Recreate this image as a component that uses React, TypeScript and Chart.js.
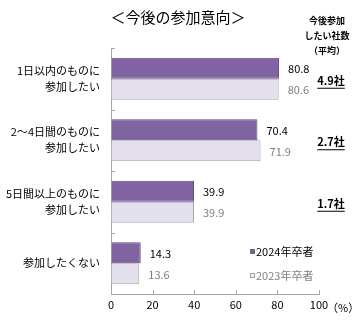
import React, { useEffect, useRef } from "react";
import { Chart, registerables } from "chart.js";

Chart.register(...registerables);

const FONT = "'Noto Sans CJK JP', 'Noto Sans', sans-serif";

const categories: string[][] = [
  ["1日以内のものに", "参加したい"],
  ["2～4日間のものに", "参加したい"],
  ["5日間以上のものに", "参加したい"],
  ["参加したくない"],
];
const series2024 = [80.8, 70.4, 39.9, 14.3];
const series2023 = [80.6, 71.9, 39.9, 13.6];
const seriesNames = ["2024年卒者", "2023年卒者"];
const avgCompanies = ["4.9社", "2.7社", "1.7社", ""];
const xTickValues = [0, 20, 40, 60, 80, 100];
const titleText = "＜今後の参加意向＞";
const sideHeader = ["今後参加", "したい社数", "（平均）"];
const unitText = "（%）";

const COLOR_2024 = "#8064A2";
const BORDER_2024 = "#5F4B7D";
const COLOR_2023 = "#E4DFEC";
const BORDER_2023 = "#A8A4AE";

const overlayPlugin = {
  id: "overlay",
  afterDraw(chart: any) {
    const ctx = chart.ctx as CanvasRenderingContext2D;
    const area = chart.chartArea;
    const xs = chart.scales.x;
    const ys = chart.scales.y;
    ctx.save();

    // title
    ctx.fillStyle = "#000";
    ctx.font = `15px ${FONT}`;
    ctx.textAlign = "center";
    ctx.textBaseline = "middle";
    ctx.fillText(titleText, 178, 17);

    // side header
    ctx.font = `bold 9px ${FONT}`;
    const hy = [21, 36, 51];
    sideHeader.forEach((t, i) => ctx.fillText(t, 327, hy[i]));

    // inward tick marks
    ctx.strokeStyle = "#A6A6A6";
    ctx.lineWidth = 1;
    xTickValues.slice(1).forEach((v) => {
      const px = Math.round(xs.getPixelForValue(v)) + 0.5;
      ctx.beginPath();
      ctx.moveTo(px, area.bottom);
      ctx.lineTo(px, area.bottom - 4);
      ctx.stroke();
    });
    for (let i = 0; i < categories.length; i++) {
      const c = ys.getPixelForValue(i);
      const next = i + 1 < categories.length ? ys.getPixelForValue(i + 1) : c + (c - ys.getPixelForValue(i - 1));
      const b = Math.round(c - (next - c) / 2) + 0.5;
      ctx.beginPath();
      ctx.moveTo(area.left, b);
      ctx.lineTo(area.left + 4, b);
      ctx.stroke();
    }

    // value labels
    ctx.font = `11px ${FONT}`;
    ctx.textAlign = "left";
    ctx.textBaseline = "middle";
    const labelColors = ["#000000", "#7F7F7F"];
    chart.data.datasets.forEach((ds: any, di: number) => {
      const meta = chart.getDatasetMeta(di);
      meta.data.forEach((el: any, i: number) => {
        ctx.fillStyle = labelColors[di];
        ctx.fillText(ds.data[i].toFixed(1), el.x + 9, el.y + 1);
      });
    });

    // average companies
    ctx.font = `bold 11px ${FONT}`;
    ctx.fillStyle = "#000";
    ctx.strokeStyle = "#000";
    avgCompanies.forEach((t, i) => {
      if (!t) return;
      const y = ys.getPixelForValue(i) + 2;
      ctx.textAlign = "center";
      ctx.fillText(t, 331, y);
      const w = ctx.measureText(t).width;
      ctx.beginPath();
      ctx.moveTo(331 - w / 2, y + 7.5);
      ctx.lineTo(331 + w / 2, y + 7.5);
      ctx.stroke();
    });

    // legend
    ctx.font = `11px ${FONT}`;
    ctx.textAlign = "left";
    ctx.fillStyle = "#6E6680";
    ctx.fillRect(250, 249, 5, 5);
    ctx.fillStyle = "#000";
    ctx.fillText(seriesNames[0], 256, 252);
    ctx.fillStyle = "#F2F0F5";
    ctx.fillRect(250, 273, 5, 5);
    ctx.strokeStyle = "#A0A0A0";
    ctx.strokeRect(250.5, 273.5, 4, 4);
    ctx.fillStyle = "#808080";
    ctx.fillText(seriesNames[1], 256, 276);

    // unit
    ctx.fillStyle = "#000";
    ctx.fillText(unitText, 327, 308);

    ctx.restore();
  },
};

export default function App() {
  const ref = useRef<HTMLCanvasElement>(null);
  useEffect(() => {
    if (!ref.current) return;
    const chart = new Chart(ref.current, {
      type: "bar",
      data: {
        labels: categories,
        datasets: [
          {
            label: seriesNames[0],
            data: series2024,
            backgroundColor: COLOR_2024,
            borderColor: BORDER_2024,
            borderWidth: 1,
            categoryPercentage: 0.68,
            barPercentage: 1,
          },
          {
            label: seriesNames[1],
            data: series2023,
            backgroundColor: COLOR_2023,
            borderColor: BORDER_2023,
            borderWidth: 1,
            categoryPercentage: 0.68,
            barPercentage: 1,
          },
        ],
      },
      options: {
        indexAxis: "y",
        responsive: false,
        animation: false,
        layout: { padding: { top: 48, right: 40, left: 0, bottom: 0 } },
        plugins: { legend: { display: false }, tooltip: { enabled: false } },
        scales: {
          x: {
            min: 0,
            max: 100,
            ticks: { stepSize: 20, color: "#000", font: { family: FONT, size: 11 }, padding: 4, maxRotation: 0 },
            grid: { drawOnChartArea: false, drawTicks: false },
            border: { display: true, color: "#A6A6A6" },
            afterFit: (s: any) => {
              s.height = 24.5;
            },
          },
          y: {
            ticks: { color: "#000", font: { family: FONT, size: 11, lineHeight: 16 / 11 }, padding: 11 },
            grid: { drawOnChartArea: false, drawTicks: false },
            border: { display: true, color: "#A6A6A6" },
            afterFit: (s: any) => {
              s.width = 111;
            },
          },
        },
      } as any,
      plugins: [overlayPlugin],
    });
    return () => chart.destroy();
  }, []);
  return (
    <div style={{ position: "fixed", left: 0, top: 0, width: 359, height: 321, background: "#fff" }}>
      <canvas ref={ref} width={359} height={321} style={{ width: 359, height: 321 }} />
    </div>
  );
}
